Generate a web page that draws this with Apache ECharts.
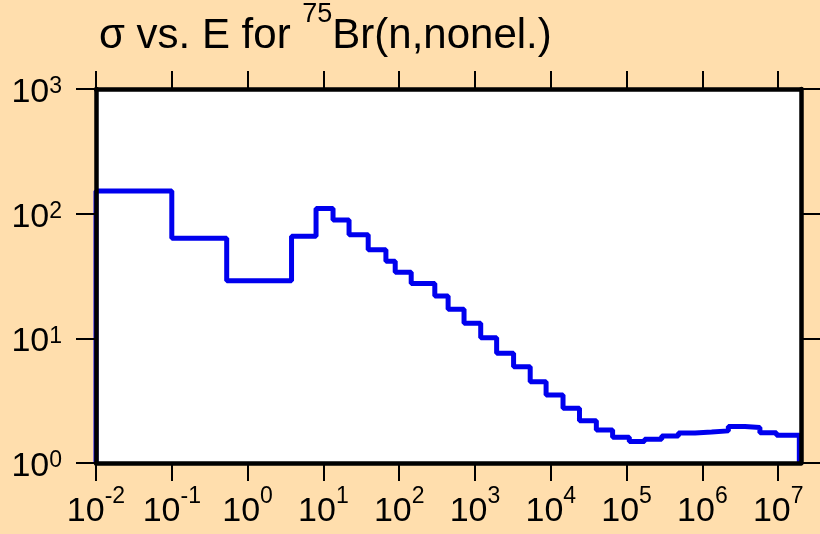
<!DOCTYPE html>
<html>
<head>
<meta charset="utf-8">
<script src="https://cdn.jsdelivr.net/npm/echarts@6/dist/echarts.min.js"></script>
<style>
  html, body { margin: 0; padding: 0; background: #FFDEAD; }
  #chart { width: 820px; height: 534px; }
</style>
</head>
<body>
<div id="chart"></div>
<script>
// Group boundaries of the energy histogram (eV)
const binEdges = [0.01, 0.1, 0.53, 3.8, 8.0, 13.4, 21.8, 39, 66.8, 88.6, 144,
  295, 442, 717, 1190, 1930, 3230, 5350, 8670, 14500, 23900, 39900, 65400,
  108600, 172500, 291000, 483000, 801000, 1.325e6, 2.2e6, 3.65e6, 5.74e6,
  9.5e6, 1.9e7];
// Group-averaged nonelastic cross section (b), one value per group
const sigma = [152, 63.4, 29.0, 65.8, 110, 89, 67.8, 51.4, 41.5, 33.9, 27.5,
  21.9, 17.1, 13.2, 10.1, 7.59, 5.92, 4.49, 3.51, 2.75, 2.18, 1.84, 1.61,
  1.49, 1.55, 1.65, 1.74, 1.77, 1.81, 1.96, 1.93, 1.75, 1.67];
// Decade tick positions
const xTickValues = [1e-2, 1e-1, 1e0, 1e1, 1e2, 1e3, 1e4, 1e5, 1e6, 1e7];
const yTickValues = [1e0, 1e1, 1e2, 1e3];
const xRange = [0.01, 2e7];
const yRange = [1, 1000];

const FONT = 'Liberation Sans, Arial, sans-serif';

// Histogram outline: rise from the floor, one step per group, drop back down
const stepPoints = [[binEdges[0], yRange[0]]];
sigma.forEach((v, i) => stepPoints.push([binEdges[i], v]));
stepPoints.push([binEdges[binEdges.length - 1], sigma[sigma.length - 1]]);
stepPoints.push([binEdges[binEdges.length - 1], yRange[0]]);

// "10" with the exponent raised as a superscript
const powerLabel = v => '{b|10}{s|' + Math.round(Math.log10(v)) + '}';
const xLabelRich = {
  b: { fontSize: 34, fontFamily: FONT, color: '#000', lineHeight: 44, verticalAlign: 'bottom' },
  s: { fontSize: 23, fontFamily: FONT, color: '#000', lineHeight: 16, verticalAlign: 'top' }
};
const yLabelRich = {
  b: { fontSize: 34, fontFamily: FONT, color: '#000', lineHeight: 34, verticalAlign: 'bottom' },
  s: { fontSize: 23, fontFamily: FONT, color: '#000', lineHeight: 16, verticalAlign: 'top' }
};

const frameLine = { show: true, onZero: false, lineStyle: { color: '#000', width: 4.5 } };
const tickLine = { color: '#000', width: 2 };

const chart = echarts.init(document.getElementById('chart'), null, { renderer: 'canvas' });
chart.setOption({
  animation: false,
  backgroundColor: '#FFDEAD',
  title: {
    text: '{a|σ vs. E for }{s|75}{a|Br(n,nonel.)}',
    left: 99,
    top: 1,
    padding: 0,
    textStyle: {
      fontWeight: 'normal',
      rich: {
        a: { fontSize: 42, fontFamily: FONT, fontWeight: 'normal', color: '#000', lineHeight: 56, verticalAlign: 'bottom' },
        s: { fontSize: 27, fontFamily: FONT, fontWeight: 'normal', color: '#000', lineHeight: 20, verticalAlign: 'top' }
      }
    }
  },
  grid: {
    left: 96, right: 19, top: 89, bottom: 71,
    show: true, backgroundColor: '#fff', borderWidth: 0
  },
  xAxis: [
    {
      type: 'log', logBase: 10, min: xRange[0], max: xRange[1], position: 'bottom', z: 5,
      axisLine: frameLine,
      axisTick: { show: true, inside: false, length: 18, lineStyle: tickLine, customValues: xTickValues },
      axisLabel: { customValues: xTickValues, margin: 22, formatter: powerLabel, rich: xLabelRich },
      splitLine: { show: false }, minorTick: { show: false }
    },
    {
      type: 'log', logBase: 10, min: xRange[0], max: xRange[1], position: 'top', z: 5,
      axisLine: frameLine,
      axisTick: { show: true, inside: false, length: 18, lineStyle: tickLine, customValues: xTickValues },
      axisLabel: { show: false },
      splitLine: { show: false }
    }
  ],
  yAxis: [
    {
      type: 'log', logBase: 10, min: yRange[0], max: yRange[1], position: 'left', z: 5,
      axisLine: frameLine,
      axisTick: { show: true, inside: false, length: 20, lineStyle: tickLine, customValues: yTickValues },
      axisLabel: { customValues: yTickValues, margin: 34, padding: [7, 0, 0, 0], formatter: powerLabel, rich: yLabelRich },
      splitLine: { show: false }
    },
    {
      type: 'log', logBase: 10, min: yRange[0], max: yRange[1], position: 'right', z: 5,
      axisLine: frameLine,
      axisTick: { show: true, inside: false, length: 20, lineStyle: tickLine, customValues: yTickValues },
      axisLabel: { show: false },
      splitLine: { show: false }
    }
  ],
  series: [{
    type: 'line',
    step: 'end',
    data: stepPoints,
    showSymbol: false,
    symbol: 'none',
    clip: true,
    lineStyle: { color: '#0000EE', width: 5 },
    z: 2
  }]
});
</script>
</body>
</html>
